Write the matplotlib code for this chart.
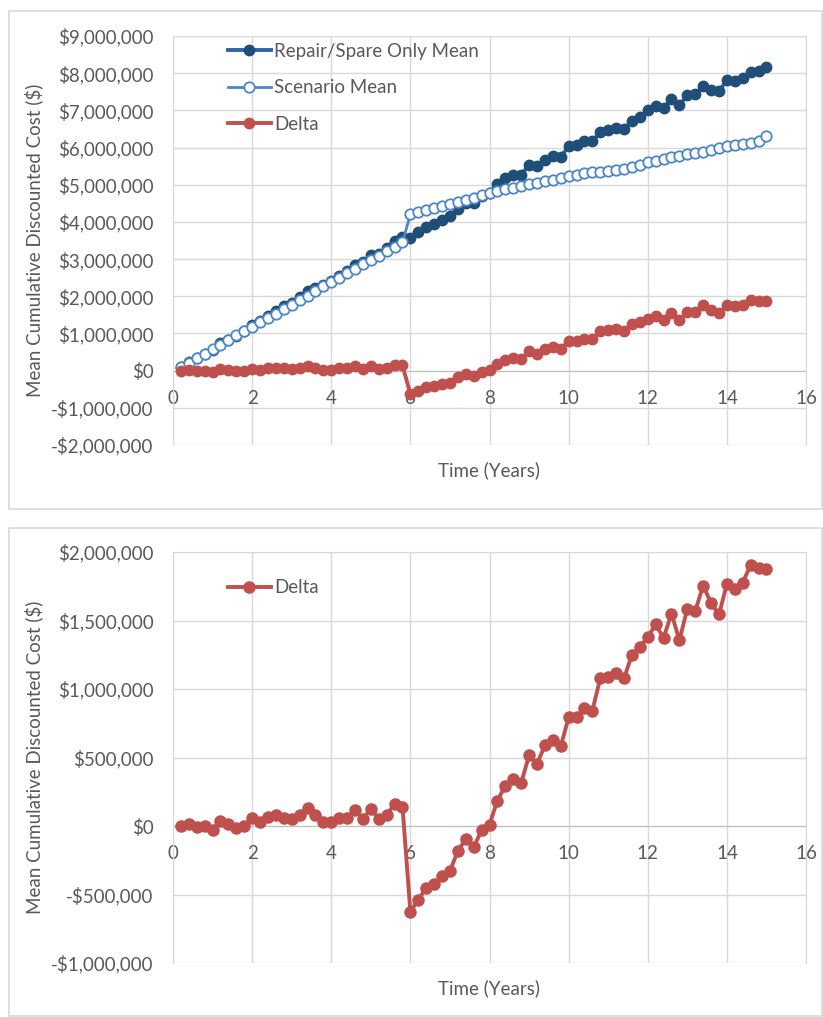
import numpy as np
import matplotlib.pyplot as plt
from matplotlib.patches import Rectangle
from matplotlib.ticker import FuncFormatter

# time in years, one point every 0.2 years
years = [round(0.2 * k, 1) for k in range(1, 76)]

# values in thousands of dollars
repair_mean = [
    100, 232, 338, 455, 558, 732, 837, 933, 1055, 1231,
    1339, 1481, 1616, 1731, 1824, 1976, 2145, 2231, 2295, 2405,
    2551, 2686, 2850, 2919, 3098, 3144, 3306, 3495, 3592, 3575,
    3721, 3857, 3946, 4052, 4154, 4346, 4497, 4496, 4688, 4790,
    5016, 5174, 5263, 5274, 5525, 5503, 5678, 5760, 5751, 6032,
    6062, 6168, 6173, 6418, 6471, 6515, 6508, 6720, 6826, 7000,
    7121, 7073, 7301, 7135, 7416, 7429, 7645, 7558, 7524, 7805,
    7788, 7877, 8024, 8050, 8175,
]
scenario_mean = [
    100, 215, 345, 455, 590, 695, 820, 950, 1055, 1175,
    1310, 1415, 1535, 1670, 1775, 1895, 2010, 2150, 2265, 2375,
    2490, 2625, 2735, 2865, 2975, 3090, 3225, 3335, 3450, 4200,
    4260, 4310, 4370, 4420, 4480, 4530, 4590, 4650, 4720, 4780,
    4830, 4880, 4920, 4960, 5010, 5050, 5090, 5130, 5170, 5240,
    5270, 5310, 5330, 5340, 5380, 5400, 5430, 5470, 5520, 5620,
    5650, 5700, 5750, 5780, 5830, 5860, 5890, 5930, 5980, 6040,
    6060, 6100, 6120, 6170, 6300,
]
delta = [
    0, 17, -7, 0, -32, 37, 17, -17, 0, 56,
    29, 66, 81, 61, 49, 81, 135, 81, 30, 30,
    61, 61, 115, 54, 123, 54, 81, 160, 142, -625,
    -539, -453, -424, -368, -326, -184, -93, -154, -32, 10,
    186, 294, 343, 314, 515, 453, 588, 630, 581, 792,
    792, 858, 843, 1078, 1091, 1115, 1078, 1250, 1306, 1380,
    1471, 1373, 1551, 1355, 1586, 1569, 1755, 1628, 1544, 1765,
    1728, 1777, 1904, 1880, 1875,
]

x_ticks = [0, 2, 4, 6, 8, 10, 12, 14, 16]
top_yticks = [-2e6, -1e6, 0, 1e6, 2e6, 3e6, 4e6, 5e6, 6e6, 7e6, 8e6, 9e6]
bottom_yticks = [-1e6, -5e5, 0, 5e5, 1e6, 1.5e6, 2e6]

plt.rcParams['font.family'] = ['Lato', 'DejaVu Sans']
TEXT = '#595959'
GRID = '#D9D9D9'
FS = 13.5


def money(v, pos=None):
    if v < 0:
        return '-${:,.0f}'.format(-v)
    return '${:,.0f}'.format(v)


def style_axes(ax, yticks):
    ax.set_xlim(0, 16)
    ax.set_ylim(yticks[0], yticks[-1])
    ax.set_xticks(x_ticks)
    ax.set_yticks(yticks)
    ax.yaxis.set_major_formatter(FuncFormatter(money))
    ax.grid(True, color=GRID, linewidth=1.0)
    ax.set_axisbelow(True)
    for side in ['left', 'right', 'top']:
        ax.spines[side].set_color(GRID)
    ax.spines['bottom'].set_position(('data', 0))
    ax.spines['bottom'].set_color('#BFBFBF')
    ax.spines['bottom'].set_zorder(1)
    ax.tick_params(length=0, labelsize=FS, colors=TEXT)
    ax.tick_params(axis='y', pad=14)
    ax.tick_params(axis='x', pad=14)
    ax.set_ylabel('Mean Cumulative Discounted Cost ($)', fontsize=FS,
                  color=TEXT, labelpad=6)


fig = plt.figure(figsize=(8.23, 10.17), dpi=100)

# chart frames
fig.patches.append(Rectangle((9 / 823, 1 - 509 / 1017), 813 / 823, 498 / 1017,
                             transform=fig.transFigure, fill=False,
                             edgecolor=GRID, linewidth=1.2))
fig.patches.append(Rectangle((9 / 823, 1 - 1016 / 1017), 813 / 823, 488 / 1017,
                             transform=fig.transFigure, fill=False,
                             edgecolor=GRID, linewidth=1.2))

t = np.array(years)
rep = np.array(repair_mean) * 1000
scen = np.array(scenario_mean) * 1000
dlt = np.array(delta) * 1000

ax1 = fig.add_axes([173 / 823, 1 - 445 / 1017, 633 / 823, 409 / 1017])
style_axes(ax1, top_yticks)
ax1.plot(t, rep, color='#2E64A8', linewidth=2.8, marker='o', markersize=7.5,
         markerfacecolor='#1F4E79', markeredgecolor='#1F4E79',
         label='Repair/Spare Only Mean', zorder=3)
ax1.plot(t, scen, color='#4A86C8', linewidth=2.0, marker='o', markersize=7.5,
         markerfacecolor='white', markeredgecolor='#4A86C8',
         markeredgewidth=1.3, label='Scenario Mean', zorder=3)
ax1.plot(t, dlt, color='#C0504D', linewidth=2.8, marker='o', markersize=7.5,
         markerfacecolor='#C0504D', markeredgecolor='#C0504D',
         label='Delta', zorder=3)
ax1.legend(loc='upper left', bbox_to_anchor=(0.06, 1.025), frameon=False,
           fontsize=FS, labelcolor=TEXT, handlelength=2.3, handletextpad=0.15,
           labelspacing=1.05)
ax1.set_xlabel('Time (Years)', fontsize=FS, color=TEXT)
ax1.xaxis.set_label_coords(0.5, -0.04)

ax2 = fig.add_axes([173 / 823, 1 - 963 / 1017, 633 / 823, 411 / 1017])
style_axes(ax2, bottom_yticks)
ax2.plot(t, dlt, color='#C0504D', linewidth=2.8, marker='o', markersize=8,
         markerfacecolor='#C0504D', markeredgecolor='#C0504D',
         label='Delta', zorder=3)
ax2.legend(loc='upper left', bbox_to_anchor=(0.06, 0.975), frameon=False,
           fontsize=FS, labelcolor=TEXT, handlelength=2.3, handletextpad=0.15)
ax2.set_xlabel('Time (Years)', fontsize=FS, color=TEXT)
ax2.xaxis.set_label_coords(0.5, -0.04)

fig.savefig('out.png', dpi=100)
